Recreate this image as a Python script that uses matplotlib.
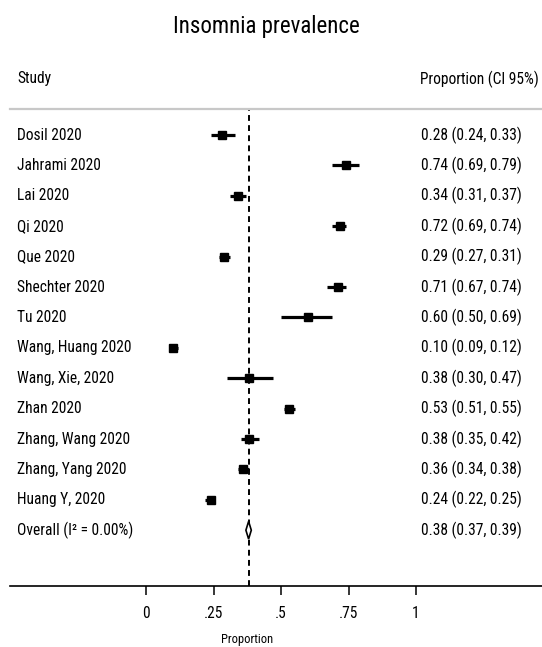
import matplotlib
matplotlib.use("Agg")
import matplotlib.pyplot as plt
import matplotlib.transforms as mtransforms
from matplotlib import font_manager
from matplotlib.patches import Polygon

# ---------------- data ----------------
studies = ["Dosil 2020", "Jahrami 2020", "Lai 2020", "Qi 2020", "Que 2020",
           "Shechter 2020", "Tu 2020", "Wang, Huang 2020", "Wang, Xie, 2020",
           "Zhan 2020", "Zhang, Wang 2020", "Zhang, Yang 2020", "Huang Y, 2020"]
estimates = [0.28, 0.74, 0.34, 0.72, 0.29, 0.71, 0.60, 0.10, 0.38, 0.53, 0.38, 0.36, 0.24]
ci_low = [0.24, 0.69, 0.31, 0.69, 0.27, 0.67, 0.50, 0.09, 0.30, 0.51, 0.35, 0.34, 0.22]
ci_high = [0.33, 0.79, 0.37, 0.74, 0.31, 0.74, 0.69, 0.12, 0.47, 0.55, 0.42, 0.38, 0.25]
overall_label = "Overall (I\u00b2 = 0.00%)"
overall_est = 0.38
overall_low = 0.37
overall_high = 0.39
xticks = [0, 0.25, 0.5, 0.75, 1]
xticklabels = ["0", ".25", ".5", ".75", "1"]

# ---------------- font ----------------
names = {f.name for f in font_manager.fontManager.ttflist}
fam = "Liberation Sans"
for cand in ["Roboto Condensed", "Liberation Sans Narrow", "Archivo Narrow", "PT Sans Narrow"]:
    if cand in names:
        fam = cand
        break
plt.rcParams["font.family"] = [fam, "DejaVu Sans"]
FS = 11.2

W, H = 542, 647
fig = plt.figure(figsize=(W / 100, H / 100), dpi=100)

# axes placement in pixels
ax_l, ax_r, ax_t, ax_b = 10, 542, 109, 586
ax = fig.add_axes([ax_l / W, 1 - ax_b / H, (ax_r - ax_l) / W, (ax_b - ax_t) / H])

x0_px, unit_px = 146, 270.0
row0_px, row_px = 135, 30.4
ax.set_xlim((ax_l - x0_px) / unit_px, (ax_r - x0_px) / unit_px)
ax.set_ylim((ax_b - row0_px) / row_px, (ax_t - row0_px) / row_px)

for s in ["left", "right"]:
    ax.spines[s].set_visible(False)
ax.spines["top"].set_color("#c8c8c8")
ax.spines["top"].set_linewidth(1.6)
ax.spines["bottom"].set_linewidth(1.2)
ax.set_yticks([])
ax.set_xticks(xticks)
ax.set_xticklabels(xticklabels)
ax.tick_params(axis="x", direction="out", length=6.5, width=1.1, pad=8, labelsize=FS)

# dashed overall line
ax.axvline(overall_est, color="black", lw=1.4, linestyle=(0, (3.0, 2.2)), zorder=1)

# studies
rows = list(range(len(studies)))
for i, (e, lo, hi) in enumerate(zip(estimates, ci_low, ci_high)):
    ax.plot([lo, hi], [i, i], color="black", lw=2.3, solid_capstyle="butt", zorder=3)
ax.plot(estimates, rows, linestyle="none", marker="s", markersize=5.2,
        color="black", zorder=4)

# overall diamond
yo = len(studies)
dh = 0.29
diamond = Polygon([[overall_low, yo], [overall_est, yo - dh], [overall_high, yo],
                   [overall_est, yo + dh]], closed=True, facecolor="white",
                  edgecolor="black", lw=1.2, zorder=5)
ax.add_patch(diamond)

# text columns
tr = mtransforms.blended_transform_factory(fig.transFigure, ax.transData)
all_labels = studies + [overall_label]
all_vals = [f"{e:.2f} ({lo:.2f}, {hi:.2f})" for e, lo, hi in zip(estimates, ci_low, ci_high)]
all_vals.append(f"{overall_est:.2f} ({overall_low:.2f}, {overall_high:.2f})")
for i, (lab, val) in enumerate(zip(all_labels, all_vals)):
    ax.text(17 / W, i, lab, transform=tr, ha="left", va="center", fontsize=FS)
    ax.text(421 / W, i, val, transform=tr, ha="left", va="center", fontsize=FS)

# headers
fig.text(17 / W, 1 - 79 / H, "Study", ha="left", va="center", fontsize=FS)
fig.text(420 / W, 1 - 79 / H, "Proportion (CI 95%)", ha="left", va="center", fontsize=FS)
fig.text(266 / W, 1 - 27 / H, "Insomnia prevalence", ha="center", va="center", fontsize=16.5)
fig.text(247 / W, 1 - 639 / H, "Proportion", ha="center", va="center", fontsize=9)

fig.savefig("out.png", dpi=100)
